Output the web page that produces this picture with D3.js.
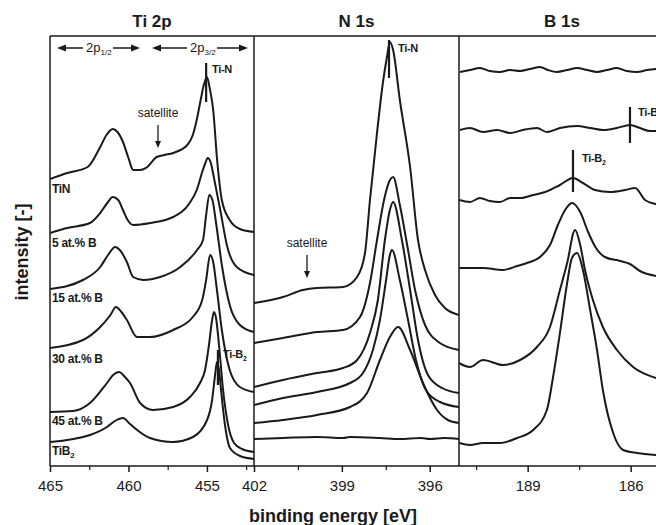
<!DOCTYPE html>
<html>
<head>
<meta charset="utf-8">
<script src="https://cdn.jsdelivr.net/npm/d3@7"></script>
<style>
body { margin: 0; background: #fff; }
svg text { font-family: "Liberation Sans", Arial, Helvetica, sans-serif; fill: #1a1a1a; }
</style>
</head>
<body>
<div id="chart"></div>
<script>
// sample names, top to bottom
var samples = ["TiN", "5 at.% B", "15 at.% B", "30 at.% B", "45 at.% B", "TiB2"];
var panelTitles = ["Ti 2p", "N 1s", "B 1s"];

// tick values [eV]
var ti2pMajor = [465, 460, 455], ti2pMinor = [462.5, 457.5, 452.5];
var n1sMajor = [402, 399, 396], n1sMinor = [400.5, 397.5];
var b1sMajor = [189, 186], b1sMinor = [190.5, 187.5, 184.5];

// Ti 2p spectra [binding energy, intensity (offset, a.u.)]
var ti2pTiN = [[465.0,287],[463.9,293],[462.6,299],[461.8,319],[461.4,331],[461.0,337],[460.7,334],[460.35,324],[460.0,308],[459.7,296],[459.25,296],[458.8,299],[458.2,309],[457.7,311],[457.15,313],[456.25,321],[455.9,331],[455.65,346],[455.4,366],[455.2,381],[455.0,389],[454.8,376],[454.6,356],[454.35,306],[454.05,266],[453.55,246],[452.9,237],[452.0,234]];
var ti2pB5 = [[465.0,233],[463.9,238],[462.45,243],[461.8,253],[461.35,263],[461.0,269],[460.65,266],[460.35,256],[460.05,246],[459.7,241],[458.6,243],[457.15,249],[456.1,263],[455.65,276],[455.3,294],[455.1,303],[454.95,308],[454.75,303],[454.55,288],[454.15,256],[453.7,219],[453.1,199],[452.0,191]];
var ti2pB15 = [[465.0,177],[462.9,186],[461.8,199],[461.3,211],[460.85,219],[460.55,216],[460.1,204],[459.7,189],[459.05,186],[457.98,189],[456.7,199],[455.63,216],[455.25,226],[455.05,251],[454.85,271],[454.65,266],[454.4,241],[454.05,201],[453.55,161],[452.9,141],[452.0,134]];
var ti2pB30 = [[465.0,118],[462.9,126],[461.8,139],[461.15,151],[460.8,159],[460.45,154],[460.1,146],[459.45,129],[458.63,129],[457.15,136],[455.9,149],[455.3,166],[455.05,186],[454.8,211],[454.6,204],[454.4,181],[454.05,136],[453.55,96],[452.9,79],[452.0,74]];
var ti2pB45 = [[465.0,54],[463.53,55],[462.45,63],[461.37,83],[460.98,91],[460.6,94],[460.22,89],[459.9,83],[459.26,63],[458.44,56],[457.16,59],[456.08,69],[455.44,83],[455.12,96],[454.87,121],[454.67,146],[454.55,154],[454.42,148],[454.23,121],[453.97,76],[453.65,41],[453.27,23],[452.76,17],[452.0,14]];
var ti2pTiB2 = [[465.0,24],[462.45,31],[461.37,39],[460.86,45],[460.35,48],[459.9,42],[459.45,36],[458.63,28],[457.16,24],[455.89,29],[454.99,46],[454.67,66],[454.48,91],[454.36,104],[454.23,96],[454.1,76],[453.85,41],[453.53,18],[452.89,10],[452.0,7]];

// N 1s spectra
var n1sTiN = [[402.0,163],[401.01,169],[400.33,176],[399.85,178],[398.96,179],[398.48,189],[398.21,213],[398.04,266],[397.8,333],[397.6,383],[397.46,409],[397.36,424],[397.25,416],[397.02,366],[396.67,299],[396.4,226],[396.16,196],[395.82,171],[395.48,158],[395.0,151]];
var n1sB5 = [[402.0,123],[401.01,128],[399.85,134],[398.96,136],[398.38,149],[398.04,183],[397.8,226],[397.56,266],[397.36,286],[397.25,289],[397.02,261],[396.74,216],[396.5,176],[396.16,141],[395.65,123],[395.0,116]];
var n1sB15 = [[402.0,79],[401.01,86],[399.85,93],[398.96,98],[398.48,106],[398.04,133],[397.77,166],[397.53,226],[397.36,256],[397.25,264],[396.95,226],[396.67,176],[396.4,126],[396.06,91],[395.58,78],[395.0,73]];
var n1sB30 = [[402.0,61],[401.01,68],[399.85,74],[398.72,83],[398.28,93],[397.94,116],[397.7,146],[397.49,186],[397.36,211],[397.29,216],[397.02,186],[396.74,146],[396.47,106],[396.13,76],[395.65,64],[395.0,59]];
var n1sB45 = [[402.0,43],[401.01,46],[399.85,51],[398.72,59],[398.14,73],[397.7,106],[397.36,129],[397.08,139],[396.67,116],[396.23,83],[395.75,56],[395.38,46],[395.0,43]];
var n1sTiB2 = [[402.0,27],[401.01,28],[399.85,29],[398.96,28],[398.72,29],[397.7,28],[397.02,27],[396.3,28],[395.99,27],[395.5,28],[395.0,27]];

// B 1s spectra
var b1sTiN = [[190.97,394],[190.68,396],[190.39,398],[190.10,395],[189.81,394],[189.51,396],[189.22,395],[188.93,397],[188.64,399],[188.41,396],[188.15,394],[187.85,396],[187.56,398],[187.27,396],[186.98,394],[186.69,396],[186.40,398],[186.11,395],[185.81,394],[185.52,396],[185.23,397]];
var b1sB5 = [[190.97,336],[190.68,338],[190.30,334],[189.89,336],[189.51,333],[189.14,336],[188.73,338],[188.44,334],[188.06,338],[187.56,340],[187.18,338],[186.81,336],[186.40,338],[186.02,341],[185.73,338],[185.44,335],[185.23,335]];
var b1sB15 = [[191.0,266],[190.68,264],[190.39,268],[190.10,265],[189.81,264],[189.51,268],[189.22,268],[188.84,271],[188.49,274],[188.06,281],[187.68,288],[187.39,283],[187.04,276],[186.60,274],[186.16,276],[185.87,278],[185.58,266],[185.26,262]];
var b1sB30 = [[191.0,198],[190.30,198],[189.72,196],[189.31,200],[189.02,203],[188.64,209],[188.35,221],[188.12,241],[187.91,256],[187.71,263],[187.47,254],[187.24,234],[187.01,218],[186.75,209],[186.31,205],[186.02,202],[185.73,195],[185.26,190]];
var b1sB45 = [[191.0,103],[190.68,99],[190.30,106],[189.72,101],[189.22,106],[188.73,119],[188.35,139],[188.06,176],[187.85,203],[187.62,236],[187.47,221],[187.33,196],[187.10,166],[186.81,139],[186.40,116],[185.93,99],[185.26,88]];
var b1sTiB2 = [[191.0,23],[190.68,21],[190.30,23],[189.81,23],[189.31,28],[188.84,36],[188.44,56],[188.26,89],[188.06,133],[187.85,183],[187.71,208],[187.56,213],[187.39,196],[187.18,156],[186.98,116],[186.81,76],[186.51,33],[186.22,16],[185.81,13],[185.26,11]];

var width = 656, height = 525;
var plotTop = 36, plotBottom = 466;

var svg = d3.select("#chart")
  .append("svg")
  .attr("width", width)
  .attr("height", height);

var yScale = d3.scaleLinear().domain([0, 430]).range([plotBottom, plotTop]);

var panels = [
  { title: panelTitles[0], domain: [465, 452], range: [50, 254], major: ti2pMajor, minor: ti2pMinor,
    series: [ti2pTiN, ti2pB5, ti2pB15, ti2pB30, ti2pB45, ti2pTiB2] },
  { title: panelTitles[1], domain: [402, 395], range: [254, 459], major: n1sMajor, minor: n1sMinor,
    series: [n1sTiN, n1sB5, n1sB15, n1sB30, n1sB45, n1sTiB2] },
  { title: panelTitles[2], domain: [191, 185], range: [459, 665], major: b1sMajor, minor: b1sMinor,
    series: [b1sTiN, b1sB5, b1sB15, b1sB30, b1sB45, b1sTiB2] }
];

panels.forEach(function(p, i) {
  p.x = d3.scaleLinear().domain(p.domain).range(p.range);

  svg.append("clipPath").attr("id", "clip" + i)
    .append("rect")
    .attr("x", p.range[0]).attr("y", plotTop)
    .attr("width", p.range[1] - p.range[0]).attr("height", plotBottom - plotTop);

  var line = d3.line()
    .x(function(d) { return p.x(d[0]); })
    .y(function(d) { return yScale(d[1]); })
    .curve(d3.curveMonotoneX);

  svg.append("g")
    .attr("clip-path", "url(#clip" + i + ")")
    .selectAll("path")
    .data(p.series)
    .enter()
    .append("path")
    .attr("d", line)
    .attr("fill", "none")
    .attr("stroke", "#1a1a1a")
    .attr("stroke-width", 2)
    .attr("stroke-linejoin", "round");

  // axis, major ticks with labels
  var ax = svg.append("g")
    .attr("class", "xAxis")
    .attr("transform", "translate(0," + plotBottom + ")")
    .call(d3.axisBottom(p.x).tickValues(p.major).tickFormat(d3.format("d")).tickSize(6).tickPadding(8));
  ax.select(".domain").remove();
  ax.selectAll("line").attr("stroke", "#1a1a1a").attr("stroke-width", 1.5);
  ax.selectAll("text").style("font-size", "15px").attr("fill", "#1a1a1a");

  var mi = svg.append("g")
    .attr("transform", "translate(0," + plotBottom + ")")
    .call(d3.axisBottom(p.x).tickValues(p.minor).tickFormat("").tickSize(4));
  mi.select(".domain").remove();
  mi.selectAll("line").attr("stroke", "#1a1a1a").attr("stroke-width", 1.2);

  svg.append("text")
    .attr("x", (p.range[0] + p.range[1]) / 2)
    .attr("y", 27)
    .attr("text-anchor", "middle")
    .style("font-size", "17px")
    .style("font-weight", "bold")
    .text(p.title);
});

// frame
var frame = svg.append("g").attr("stroke", "#1a1a1a").attr("stroke-width", 1.5);
frame.append("line").attr("x1", 50).attr("x2", width).attr("y1", plotTop).attr("y2", plotTop);
frame.append("line").attr("x1", 50).attr("x2", width).attr("y1", plotBottom).attr("y2", plotBottom);
[50, 254, 459].forEach(function(xx) {
  frame.append("line").attr("x1", xx).attr("x2", xx).attr("y1", plotTop).attr("y2", plotBottom);
});

// axis titles
svg.append("text")
  .attr("x", 333).attr("y", 522)
  .attr("text-anchor", "middle")
  .style("font-size", "18px").style("font-weight", "bold")
  .text("binding energy [eV]");

svg.append("text")
  .attr("transform", "translate(22,252)rotate(-90)")
  .attr("text-anchor", "middle")
  .attr("dy", "0.35em")
  .style("font-size", "18px").style("font-weight", "bold")
  .text("intensity [-]");

// sample labels in Ti 2p panel
var labelY = [193, 247, 302, 363, 425, 455];
samples.forEach(function(s, i) {
  var t = svg.append("text")
    .attr("x", 52).attr("y", labelY[i])
    .style("font-size", "12px").style("font-weight", "bold")
    .style("letter-spacing", "-0.3px");
  if (s === "TiB2") {
    t.append("tspan").text("TiB");
    t.append("tspan").attr("dy", 3).style("font-size", "8px").text("2");
  } else {
    t.text(s);
  }
});

// peak markers
function marker(panel, e, y1, y2) {
  svg.append("line")
    .attr("x1", panels[panel].x(e)).attr("x2", panels[panel].x(e))
    .attr("y1", y1).attr("y2", y2)
    .attr("stroke", "#1a1a1a").attr("stroke-width", 2.2);
}
function markLabel(x, y, base, sub) {
  var t = svg.append("text").attr("x", x).attr("y", y)
    .style("font-size", "11px").style("font-weight", "bold")
    .style("letter-spacing", "-0.3px");
  t.append("tspan").text(base);
  if (sub) t.append("tspan").attr("dy", 3).style("font-size", "7px").text(sub);
}
marker(0, 455.05, 63, 102);
markLabel(212, 73, "Ti-N");
marker(0, 454.3, 350, 385);
markLabel(223, 358, "Ti-B", "2");
marker(1, 397.39, 40, 78);
markLabel(398, 52, "Ti-N");
marker(2, 187.68, 150, 192);
markLabel(582, 162, "Ti-B", "2");
marker(2, 186.02, 107, 143);
markLabel(638, 116, "Ti-B", "2");

// satellite arrows
function satellite(x, y) {
  svg.append("text").attr("x", x).attr("y", y)
    .attr("text-anchor", "middle")
    .style("font-size", "12px").attr("fill", "#333")
    .text("satellite");
  svg.append("line").attr("x1", x).attr("x2", x).attr("y1", y + 8).attr("y2", y + 26)
    .attr("stroke", "#1a1a1a").attr("stroke-width", 1.3);
  svg.append("path")
    .attr("d", "M" + (x - 3) + "," + (y + 24) + "L" + (x + 3) + "," + (y + 24) + "L" + x + "," + (y + 31) + "Z")
    .attr("fill", "#1a1a1a");
}
satellite(158, 117);
satellite(307, 247);

// spin-orbit doublet arrows
function arrow(x1, x2, y) {
  var dir = x2 > x1 ? 1 : -1;
  svg.append("line").attr("x1", x1).attr("x2", x2 - dir * 6).attr("y1", y).attr("y2", y)
    .attr("stroke", "#1a1a1a").attr("stroke-width", 1.5);
  svg.append("path")
    .attr("d", "M" + x2 + "," + y + "L" + (x2 - dir * 9) + "," + (y - 3.5) + "L" + (x2 - dir * 9) + "," + (y + 3.5) + "Z")
    .attr("fill", "#1a1a1a");
}
function doublet(xl, xr, xc, sub) {
  arrow(xc - 13, xl, 48);
  arrow(xc + 17, xr, 48);
  var t = svg.append("text").attr("x", xc - 10).attr("y", 52).style("font-size", "13px");
  t.append("tspan").text("2p");
  t.append("tspan").attr("dy", 3).style("font-size", "8px").text(sub);
}
doublet(57, 140, 96, "1/2");
doublet(152, 248, 200, "3/2");
</script>
</body>
</html>
